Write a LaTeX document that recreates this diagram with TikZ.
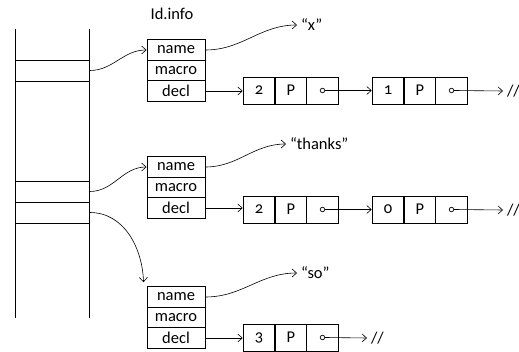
\documentclass[tikz,border=0pt]{standalone}
\usepackage{fontspec}
\usetikzlibrary{arrows.meta}
\setmainfont{Carlito}[Numbers=OldStyle]
\begin{document}
\begin{tikzpicture}[x=1pt,y=-1pt,
  every node/.style={font=\fontsize{16.5}{18}\selectfont},
  field/.style={draw,line width=0.9pt,rectangle,minimum width=58pt,minimum height=20.5pt,inner sep=0pt},
  cell/.style={draw,line width=0.9pt,rectangle,minimum width=31.7pt,minimum height=27pt,inner sep=0pt},
  slot/.style={draw,line width=0.9pt,rectangle,minimum width=73.5pt,minimum height=21pt,inner sep=0pt},
  link/.style={-{Straight Barb[length=4.5pt,width=8pt,line width=0.6pt]},line width=0.6pt},
  dot/.style={draw,circle,fill=white,line width=0.7pt,minimum size=4.5pt,inner sep=0pt},
  plain/.style={inner sep=1pt},
  target/.style={inner sep=0pt,outer sep=4pt}]
\useasboundingbox (0,0) rectangle (519,352);

% the stack of identifier slots
\draw[line width=0.9pt] (15.8,29) -- (15.8,318);
\draw[line width=0.9pt] (89.3,29) -- (89.3,318);
\node[slot] (s1) at (52.5,70.5) {};
\node[slot] (s2) at (52.5,191.5) {};
\node[slot] (s3) at (52.5,212.5) {};

\node[plain] (title) at (172,14) {Id.info};

% record for "x"
\node[field] (a1) at (176,50) {name};
\node[field] (a2) at (176,70.5) {macro};
\node[field] (a3) at (176,91) {decl};
% record for "thanks"
\node[field] (b1) at (176,167) {name};
\node[field] (b2) at (176,187.5) {macro};
\node[field] (b3) at (176,208) {decl};
% record for "so"
\node[field] (c1) at (176,297) {name};
\node[field] (c2) at (176,317.5) {macro};
\node[field] (c3) at (176,338) {decl};

% identifier strings
\node[target,anchor=west] (sx) at (297,25) {“x”};
\node[target,anchor=west] (sthanks) at (286,144) {“thanks”};
\node[target,anchor=west] (sso) at (297,273) {“so”};

% declaration lists
\node[cell] (p11) at (259,90.5) {2};
\node[cell] (p12) at (291,90.5) {P};
\node[cell] (p13) at (322.5,90.5) {};
\node[cell] (p21) at (388,90.5) {1};
\node[cell] (p22) at (420,90.5) {P};
\node[cell] (p23) at (451.5,90.5) {};
\node[dot] (d13) at (p13) {};
\node[dot] (d23) at (p23) {};
\node[target,anchor=west] (e1) at (503,91) {//};

\node[cell] (q11) at (259,209.5) {2};
\node[cell] (q12) at (291,209.5) {P};
\node[cell] (q13) at (322.5,209.5) {};
\node[cell] (q21) at (388,209.5) {0};
\node[cell] (q22) at (420,209.5) {P};
\node[cell] (q23) at (451.5,209.5) {};
\node[dot] (f13) at (q13) {};
\node[dot] (f23) at (q23) {};
\node[target,anchor=west] (e2) at (503,210) {//};

\node[cell] (r11) at (259,337.5) {3};
\node[cell] (r12) at (291,337.5) {P};
\node[cell] (r13) at (322.5,337.5) {};
\node[dot] (g13) at (r13) {};
\node[target,anchor=west] (e3) at (367,338) {//};

% slot -> record
\draw[link] (s1.east) to[out=0,in=180] (a1.west);
\draw[link] (s2.east) to[out=0,in=180] (b1.west);
\coordinate (c1in) at ([xshift=-3pt,yshift=4pt]c1.north west);
\draw[link] (s3.east) to[out=0,in=92] (c1in);

% name -> string
\draw[link] (a1.east) to[out=0,in=180] (sx.west);
\draw[link] (b1.east) to[out=0,in=180] (sthanks.west);
\draw[link] (c1.east) to[out=0,in=180] (sso.west);

% decl -> list, list links
\draw[link] (a3.east) -- (p11.west |- a3.east);
\draw[link] (d13.east) -- (p21.west |- d13.east);
\draw[link] (d23.east) -- (e1.west);
\draw[link] (b3.east) -- (q11.west |- b3.east);
\draw[link] (f13.east) -- (q21.west |- f13.east);
\draw[link] (f23.east) -- (e2.west);
\draw[link] (c3.east) -- (r11.west |- c3.east);
\draw[link] (g13.east) -- (e3.west);
\end{tikzpicture}
\end{document}
